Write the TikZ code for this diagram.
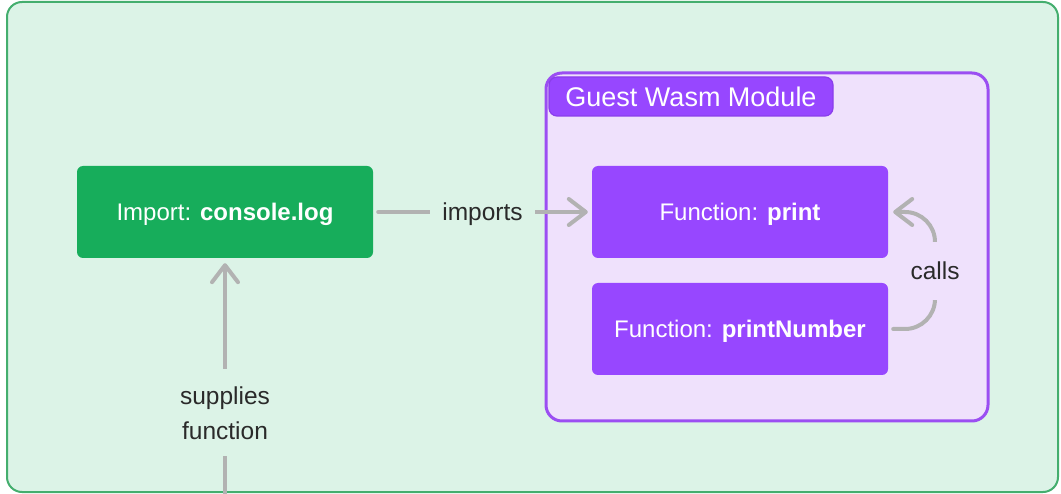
\documentclass[tikz,border=0pt]{standalone}
\usepackage{fontspec}
\setmainfont{Liberation Sans}
\usetikzlibrary{arrows.meta,calc}
\definecolor{bgfill}{HTML}{DCF3E7}
\definecolor{bgdraw}{HTML}{44AE6E}
\definecolor{gbox}{HTML}{17AD5B}
\definecolor{pbox}{HTML}{9747FF}
\definecolor{pdraw}{HTML}{9B4EF2}
\definecolor{pbg}{HTML}{EFE1FC}
\definecolor{tabdraw}{HTML}{8A3EEB}
\definecolor{arrgray}{HTML}{B2B2B2}
\definecolor{labtext}{HTML}{2A2A2A}
\tikzset{
  fbox/.style={rounded corners=6pt, text=white, font=\fontsize{24}{28}\selectfont, minimum width=296pt, minimum height=92pt, inner sep=0pt, text height=17.5pt, text depth=0pt},
  arr/.style={draw=arrgray, line width=4pt, line cap=round, -{Straight Barb[length=17pt,width=26pt,round]}},
  lab/.style={text=labtext, font=\fontsize{24.5}{35}\selectfont, inner sep=0pt}
}
\begin{document}
\begin{tikzpicture}[x=1pt,y=-1pt]
\useasboundingbox (0,0) rectangle (1061,494);
\fill[white] (0,0) rectangle (1061,494);
% outer frame
\draw[fill=bgfill, draw=bgdraw, line width=2pt, rounded corners=15pt] (7,2) rectangle (1058,492);
% container
\draw[fill=pbg, draw=pdraw, line width=3pt, rounded corners=16pt] (546,73) rectangle (988,421);
\node[fill=pbox, draw=tabdraw, line width=1.2pt, rounded corners=8pt, minimum width=284pt, minimum height=39pt, inner sep=0pt, text=white, font=\fontsize{27}{30}\selectfont, text height=19.5pt, text depth=0pt] (tab) at (691,96.5) {Guest Wasm Module};
% boxes
\node[fbox, fill=gbox] (imp) at (225,212) {Import: \textbf{console.log}};
\node[fbox, fill=pbox] (pr) at (740,212) {Function: \textbf{print}};
\node[fbox, fill=pbox] (pn) at (740,329) {Function: \textbf{printNumber}};
% imports
\draw[arr, shorten <=5pt, shorten >=4pt] (imp.east) -- node[lab, fill=bgfill, inner xsep=12pt, inner ysep=4pt, text height=17.5pt, text depth=0pt] {imports} (pr.west);
% supplies
\coordinate (sb) at (225,500);
\draw[arr, shorten >=5pt] (sb) -- node[lab, pos=0.36, fill=bgfill, align=center, inner xsep=4pt, inner ysep=17pt] {supplies\\function} (imp.south);
% calls
\coordinate (cx) at (935,271);
\draw[arr, rounded corners=30pt, shorten <=5pt, shorten >=5pt] (pn.east) -- (pn.east -| cx) -- (pr.east -| cx) -- (pr.east);
\node[lab, fill=pbg, inner xsep=3pt, inner ysep=20pt] (cl) at (cx) {calls};
\end{tikzpicture}
\end{document}
